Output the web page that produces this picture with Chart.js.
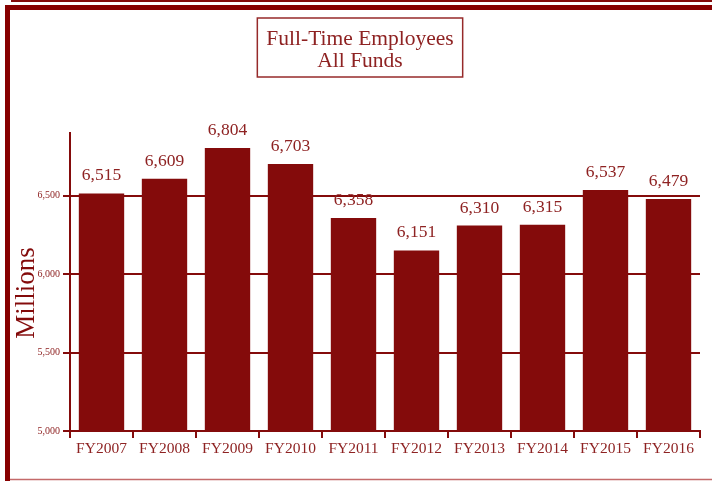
<!DOCTYPE html>
<html>
<head>
<meta charset="utf-8">
<script src="https://cdn.jsdelivr.net/npm/chart.js@4/dist/chart.umd.min.js"></script>
<style>
  html, body { margin: 0; padding: 0; background: #fff; }
  #wrap { width: 712px; height: 481px; }
</style>
</head>
<body>
<div id="wrap"><canvas id="fte"></canvas></div>
<script>
const years = ['FY2007', 'FY2008', 'FY2009', 'FY2010', 'FY2011', 'FY2012', 'FY2013', 'FY2014', 'FY2015', 'FY2016'];
const employees = [6515, 6609, 6804, 6703, 6358, 6151, 6310, 6315, 6537, 6479];
const yTicks = [5000, 5500, 6000, 6500];
const titleLines = ['Full-Time Employees', 'All Funds'];
const yTitle = 'Millions';

const RED = '#840b0b';
const TEXT = '#8e2222';
const SERIF = '"Liberation Serif", "DejaVu Serif", serif';

const fmt = v => v.toString().replace(/\B(?=(\d{3})+(?!\d))/g, ',');

// outer frame around the whole figure
const framePlugin = {
  id: 'frame',
  beforeDraw(chart) {
    const { ctx, width, height } = chart;
    ctx.save();
    ctx.fillStyle = '#fff';
    ctx.fillRect(0, 0, width, height);
    ctx.strokeStyle = RED;
    ctx.lineWidth = 2;
    ctx.beginPath();
    ctx.moveTo(11, 1);
    ctx.lineTo(width, 1);
    ctx.stroke();
    ctx.fillStyle = '#870000';
    ctx.fillRect(5, 5, width - 5, 5);
    ctx.fillRect(5, 5, 5, height - 5);
    ctx.strokeStyle = '#c46a6a';
    ctx.lineWidth = 1.5;
    ctx.beginPath();
    ctx.moveTo(10, height - 1.5);
    ctx.lineTo(width, height - 1.5);
    ctx.stroke();
    ctx.restore();
  }
};

// box around the title text, plus the rotated axis caption
const titleBoxPlugin = {
  id: 'titleBox',
  afterDraw(chart) {
    const tb = chart.titleBlock;
    const { ctx, chartArea } = chart;
    ctx.save();
    ctx.font = '21.5px ' + SERIF;
    const w = Math.max(...titleLines.map(t => ctx.measureText(t).width));
    const cx = (tb.left + tb.right) / 2;
    ctx.strokeStyle = '#962a2a';
    ctx.lineWidth = 1.5;
    ctx.strokeRect(cx - w / 2 - 9, 18, w + 18, 59);

    ctx.translate(27, (chartArea.top + chartArea.bottom) / 2 + 11);
    ctx.rotate(-Math.PI / 2);
    ctx.font = '27px ' + SERIF;
    ctx.fillStyle = RED;
    ctx.textAlign = 'center';
    ctx.textBaseline = 'middle';
    ctx.fillText(yTitle, 0, 0);
    ctx.restore();
  }
};

// value labels above the bars
const valueLabels = {
  id: 'valueLabels',
  afterDatasetsDraw(chart) {
    const { ctx } = chart;
    const meta = chart.getDatasetMeta(0);
    ctx.save();
    ctx.font = '17.5px ' + SERIF;
    ctx.fillStyle = TEXT;
    ctx.textAlign = 'center';
    ctx.textBaseline = 'alphabetic';
    meta.data.forEach((bar, i) => {
      ctx.fillText(fmt(chart.data.datasets[0].data[i]), bar.x, bar.y - 13);
    });
    ctx.restore();
  }
};

new Chart(document.getElementById('fte'), {
  type: 'bar',
  data: {
    labels: years,
    datasets: [{
      data: employees,
      backgroundColor: RED,
      borderWidth: 0,
      barPercentage: 0.72,
      categoryPercentage: 1
    }]
  },
  options: {
    responsive: true,
    maintainAspectRatio: false,
    animation: false,
    layout: { padding: { left: 20, right: 12, top: 0, bottom: 0 } },
    plugins: {
      legend: { display: false },
      tooltip: { enabled: false },
      title: {
        display: true,
        text: titleLines,
        color: TEXT,
        font: { family: SERIF, size: 21.5, weight: 'normal', lineHeight: 1.03 },
        padding: { top: 28, bottom: 60.7 }
      }
    },
    scales: {
      x: {
        grid: {
          offset: true,
          drawOnChartArea: false,
          drawTicks: true,
          tickLength: 7,
          color: RED,
          lineWidth: 2
        },
        border: { display: true, color: RED, width: 2 },
        ticks: {
          color: TEXT,
          padding: 2,
          font: { family: SERIF, size: 15.5 },
          maxRotation: 0,
          autoSkip: false
        },
        afterFit(scale) { scale.height = 50; }
      },
      y: {
        min: 5000,
        max: 6900,
        afterBuildTicks(scale) {
          scale.ticks = yTicks.map(v => ({ value: v }));
        },
        grid: {
          color: RED,
          lineWidth: 2,
          tickLength: 7,
          drawTicks: true
        },
        border: { display: true, color: RED, width: 2 },
        ticks: {
          color: TEXT,
          padding: 3,
          font: { family: SERIF, size: 10 },
          callback: v => fmt(v)
        },
        afterFit(scale) { scale.width = 50; }
      }
    }
  },
  plugins: [framePlugin, titleBoxPlugin, valueLabels]
});
</script>
</body>
</html>
